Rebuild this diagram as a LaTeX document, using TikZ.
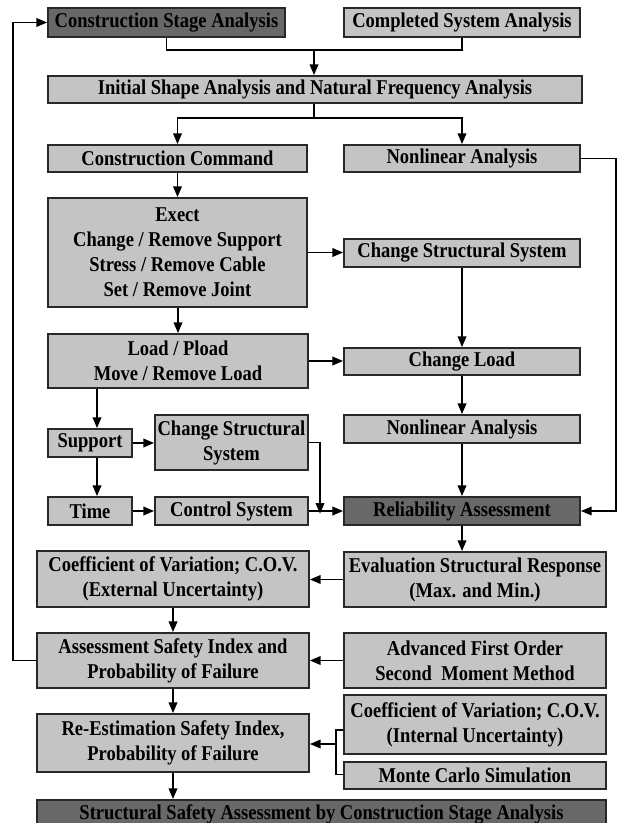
\documentclass[tikz,border=0pt]{standalone}
\usepackage{fontspec}
\setmainfont{Liberation Serif}[FakeStretch=0.88]
\usetikzlibrary{arrows.meta}
\definecolor{lightfill}{RGB}{196,196,196}
\definecolor{darkfill}{RGB}{104,104,104}
\definecolor{edgecol}{RGB}{40,40,40}
\newcommand\mybox[7]{\node[#6, minimum width={(#4-#2)*0.75pt}, minimum height={(#5-#3)*0.75pt}] (#1) at ({(#2+#4)/2},{(#3+#5)/2}) {#7};}
\begin{document}
\begin{tikzpicture}[x=0.75pt,y=-0.75pt,
  boxbase/.style={draw=edgecol, line width=1.4pt, inner sep=1pt, align=center,
    font=\fontsize{15.8}{18.8}\selectfont\bfseries},
  lbox/.style={boxbase, fill=lightfill},
  dbox/.style={boxbase, fill=darkfill},
  conn/.style={line width=1.1pt, draw=black},
  arr/.style={conn, -{Triangle[length=8pt,width=6.5pt]}}]
\useasboundingbox (0,0) rectangle (617,823);
\clip (0,0) rectangle (617,823);
\fill[white] (0,0) rectangle (617,823);

\mybox{csa}{48}{8}{285}{37}{dbox}{Construction Stage Analysis}
\mybox{csys}{344}{8}{580}{37}{lbox}{Completed System Analysis}
\mybox{init}{48}{76}{582}{103}{lbox}{Initial Shape Analysis and Natural Frequency Analysis}
\mybox{cc}{48}{145}{307}{172}{lbox}{Construction Command}
\mybox{nla}{344}{145}{580}{172}{lbox}{Nonlinear Analysis}
\mybox{exect}{48}{198}{307}{307}{lbox}{Exect\\Change / Remove Support\\Stress / Remove Cable\\Set / Remove Joint}
\mybox{cssa}{344}{239}{580}{267}{lbox}{Change Structural System}
\mybox{load}{48}{334}{308}{388}{lbox}{Load / Pload\\Move / Remove Load}
\mybox{chl}{344}{348}{580}{375}{lbox}{Change Load}
\mybox{sup}{48}{429}{132}{457}{lbox}{Support}
\mybox{cssb}{155}{415}{308}{470}{lbox}{Change Structural\\System}
\mybox{nlb}{344}{415}{580}{443}{lbox}{Nonlinear Analysis}
\mybox{time}{48}{497}{132}{525}{lbox}{Time}
\mybox{ctrl}{155}{497}{308}{525}{lbox}{Control System}
\mybox{rel}{344}{497}{580}{525}{dbox}{Reliability Assessment}
\mybox{covx}{37}{551}{309}{607}{lbox}{Coefficient of Variation; C.O.V.\\(External Uncertainty)}
\mybox{eval}{344}{552}{606}{607}{lbox}{Evaluation Structural Response\\(Max. and Min.)}
\mybox{asi}{37}{633}{309}{688}{lbox}{Assessment Safety Index and\\Probability of Failure}
\mybox{afo}{344}{633}{606}{688}{lbox}{Advanced First Order\\Second~ Moment Method}
\mybox{rei}{37}{714}{309}{772}{lbox}{Re-Estimation Safety Index,\\Probability of Failure}
\mybox{covi}{344}{695}{606}{754}{lbox}{Coefficient of Variation; C.O.V.\\(Internal Uncertainty)}
\mybox{mcs}{344}{762}{606}{789}{lbox}{Monte Carlo Simulation}
\node[dbox, minimum width={569*0.75pt}, minimum height={36*0.75pt}, anchor=north, text depth=9pt] (fin) at (321.5,799) {Structural Safety Assessment by Construction Stage Analysis};

\coordinate (j1) at (314,50);
\coordinate (j2) at (314,118);
\coordinate (jb) at (336,744);

\draw[conn] (csa.south) |- (j1) -| (csys.south);
\draw[arr] (j1) -- (j1 |- init.north);
\draw[conn] (init.south -| j2) -- (j2);
\draw[arr] (j2) -| (cc.north);
\draw[arr] (j2) -| (nla.north);
\draw[arr] (nla.east) -- ++(35,0) |- (rel.east);
\draw[arr] (cc.south) -- (exect.north);
\draw[arr] (exect.east) -- (exect.east -| cssa.west);
\draw[arr] (cssa.south) -- (chl.north);
\draw[arr] (exect.south -| load.north) -- (load.north);
\draw[arr] (load.east) -- (load.east -| chl.west);
\draw[arr] (chl.south) -- (nlb.north);
\draw[arr] (nlb.south) -- (rel.north);
\draw[arr] ([xshift=5.25pt]sup.north |- load.south) -- ([xshift=5.25pt]sup.north);
\draw[arr] ([xshift=5.25pt]sup.south) -- ([xshift=5.25pt]sup.south |- time.north);
\draw[arr] (sup.east) -- (sup.east -| cssb.west);
\draw[arr] (time.east) -- (time.east -| ctrl.west);
\draw[arr] (ctrl.east) -- (ctrl.east -| rel.west);
\draw[arr] (cssb.east) -| ([yshift=-2pt]ctrl.east -| 320,0);
\draw[arr] (rel.south) -- (rel.south |- eval.north);
\draw[arr] (eval.west) -- (eval.west -| covx.east);
\draw[arr] (covx.south) -- (asi.north);
\draw[arr] (afo.west) -- (afo.west -| asi.east);
\draw[arr] (asi.west) -- ++(-23,0) |- (csa.west);
\draw[arr] (asi.south) -- (rei.north);
\draw[conn] ([yshift=-27pt]covi.north west) -| (jb) |- ([yshift=-10pt]mcs.north west);
\draw[arr] (jb) -- (jb -| rei.east);
\draw[arr] (rei.south) -- (rei.south |- fin.north);
\end{tikzpicture}
\end{document}
